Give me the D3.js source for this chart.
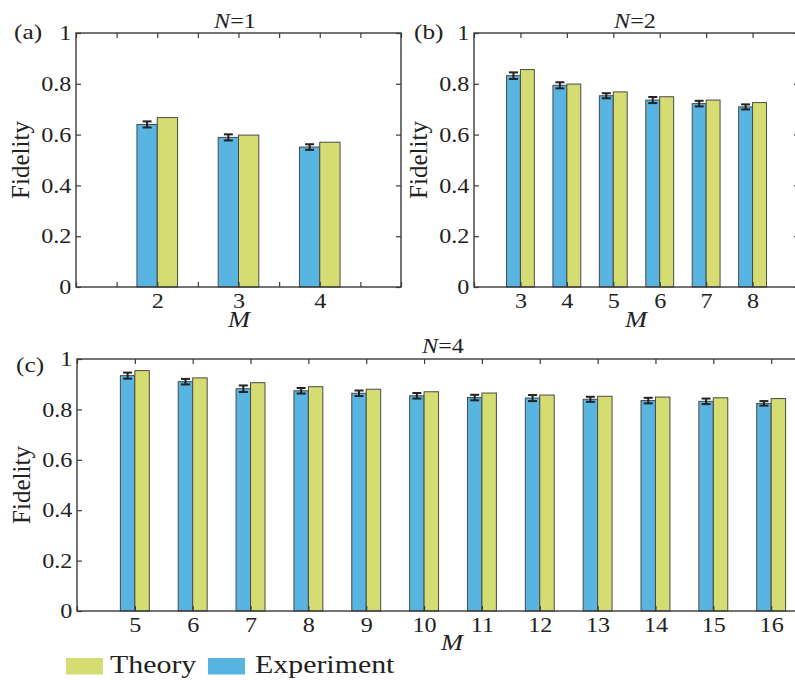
<!DOCTYPE html>
<html>
<head>
<meta charset="utf-8">
<script src="https://cdn.jsdelivr.net/npm/d3@7"></script>
</head>
<body style="margin:0;background:#fff">
<script>
// data
const yTicks = [0, 0.2, 0.4, 0.6, 0.8, 1];

const mA = [2, 3, 4];
const expA = [0.640, 0.589, 0.551];
const errA = [0.012, 0.012, 0.011];
const theoryA = [0.667, 0.598, 0.570];

const mB = [3, 4, 5, 6, 7, 8];
const expB = [0.832, 0.794, 0.753, 0.736, 0.722, 0.709];
const errB = [0.013, 0.012, 0.010, 0.012, 0.011, 0.010];
const theoryB = [0.856, 0.799, 0.768, 0.749, 0.736, 0.726];

const mC = [5, 6, 7, 8, 9, 10, 11, 12, 13, 14, 15, 16];
const expC = [0.934, 0.910, 0.882, 0.874, 0.864, 0.854, 0.847, 0.845, 0.840, 0.835, 0.832, 0.824];
const errC = [0.012, 0.011, 0.013, 0.011, 0.011, 0.011, 0.011, 0.012, 0.010, 0.011, 0.011, 0.009];
const theoryC = [0.954, 0.925, 0.906, 0.890, 0.880, 0.870, 0.865, 0.857, 0.852, 0.849, 0.846, 0.843];

const blue = "#58b5e2", yellow = "#d5dd72", edge = "#4a4a4a", axisColor = "#3a3a3a";
const FONT = '"Liberation Serif"';
const sx = 1.15; // the figure is slightly stretched sideways

const svg = d3.select("body").append("svg")
  .attr("width", 795).attr("height", 680)
  .style("font-family", FONT);

function label(sel, size) {
  return sel.style("font-family", FONT).style("font-size", size + "px").attr("fill", "#222");
}

function panel(o) {
  const x = d3.scaleLinear().domain(o.domain).range([o.left, o.right]);
  const y = d3.scaleLinear().domain([0, 1]).range([o.bottom, o.top]);
  const g = svg.append("g");
  const bw = o.barW * (x(1) - x(0));
  const rows = o.m.map((m, i) => ({ m, e: o.exp[i], err: o.err[i], t: o.theory[i] }));

  // bars
  g.selectAll("rect.exp").data(rows).enter().append("rect")
    .attr("class", "exp")
    .attr("x", d => x(d.m) - bw).attr("y", d => y(d.e))
    .attr("width", bw).attr("height", d => y(0) - y(d.e))
    .attr("fill", blue).attr("stroke", edge).attr("stroke-width", 1);
  g.selectAll("rect.th").data(rows).enter().append("rect")
    .attr("class", "th")
    .attr("x", d => x(d.m)).attr("y", d => y(d.t))
    .attr("width", bw).attr("height", d => y(0) - y(d.t))
    .attr("fill", yellow).attr("stroke", edge).attr("stroke-width", 1);

  // error bars
  const eb = g.selectAll("g.err").data(rows).enter().append("g")
    .attr("stroke", "#222").attr("stroke-width", 2);
  eb.append("line")
    .attr("x1", d => x(d.m) - bw / 2).attr("x2", d => x(d.m) - bw / 2)
    .attr("y1", d => y(d.e - d.err)).attr("y2", d => y(d.e + d.err));
  [-1, 1].forEach(s => {
    eb.append("line")
      .attr("x1", d => x(d.m) - bw / 2 - 4.5).attr("x2", d => x(d.m) - bw / 2 + 4.5)
      .attr("y1", d => y(d.e + s * d.err)).attr("y2", d => y(d.e + s * d.err));
  });

  // box
  g.append("rect")
    .attr("x", o.left).attr("y", o.top)
    .attr("width", o.right - o.left).attr("height", o.bottom - o.top)
    .attr("fill", "none").attr("stroke", axisColor).attr("stroke-width", 1.4);

  const xt = d3.range(o.domain[0], o.domain[1] + 1e-9, o.xStep);
  const xfmt = v => (o.m.includes(v) ? String(v) : "");

  const ax = [
    g.append("g").attr("transform", `translate(0,${o.bottom})`)
      .call(d3.axisBottom(x).tickValues(xt).tickFormat(xfmt).tickSize(-5).tickSizeOuter(0).tickPadding(6)),
    g.append("g").attr("transform", `translate(0,${o.top})`)
      .call(d3.axisTop(x).tickValues(xt).tickFormat("").tickSize(-5).tickSizeOuter(0)),
    g.append("g").attr("transform", `translate(${o.left},0)`)
      .call(d3.axisLeft(y).tickValues(yTicks).tickFormat(d3.format("~g")).tickSize(-5).tickSizeOuter(0).tickPadding(4)),
    g.append("g").attr("transform", `translate(${o.right},0)`)
      .call(d3.axisRight(y).tickValues(yTicks).tickFormat("").tickSize(-5).tickSizeOuter(0))
  ];
  ax.forEach(a => {
    a.attr("font-family", null).attr("font-size", null);
    a.select(".domain").remove();
    a.selectAll("line").attr("stroke", axisColor).attr("stroke-width", 1.2);
    label(a.selectAll("text"), 21).attr("transform", `scale(${sx},1)`);
  });

  // y label
  label(g.append("text"), 25)
    .attr("transform", `translate(${o.left - 47},${(o.top + o.bottom) / 2}) rotate(-90)`)
    .attr("text-anchor", "middle")
    .text("Fidelity");

  // x label
  label(g.append("text"), 23)
    .attr("transform", `translate(${o.mX},${o.mY}) scale(${sx},1)`)
    .attr("text-anchor", "middle").style("font-style", "italic")
    .text("M");

  // title
  const t = label(g.append("text"), 21)
    .attr("transform", `translate(${o.titleX},${o.titleY}) scale(${sx},1)`)
    .attr("text-anchor", "middle");
  t.append("tspan").style("font-style", "italic").text("N");
  t.append("tspan").text("=" + o.n);

  // panel tag
  label(g.append("text"), 22)
    .attr("transform", `translate(${o.tagX},${o.tagY}) scale(${sx},1)`)
    .text(o.tag);
}

panel({ m: mA, exp: expA, err: errA, theory: theoryA, domain: [1, 5], xStep: 0.5, barW: 0.25,
  left: 76, right: 401, top: 33, bottom: 287, n: 1, tag: "(a)",
  titleX: 235, titleY: 28, mX: 239, mY: 327, tagX: 14, tagY: 39 });

panel({ m: mB, exp: expB, err: errB, theory: theoryB, domain: [2, 9], xStep: 1, barW: 0.3,
  left: 474, right: 799, top: 33, bottom: 287, n: 2, tag: "(b)",
  titleX: 635, titleY: 28, mX: 636, mY: 327, tagX: 414, tagY: 39 });

panel({ m: mC, exp: expC, err: errC, theory: theoryC, domain: [4, 17], xStep: 1, barW: 0.25,
  left: 77, right: 829, top: 359, bottom: 611, n: 4, tag: "(c)",
  titleX: 443, titleY: 353, mX: 452, mY: 650, tagX: 16, tagY: 372 });

// legend
const legend = [
  { label: "Theory", color: yellow, x: 66, tx: 110 },
  { label: "Experiment", color: blue, x: 208, tx: 255 }
];
const lg = svg.append("g");
lg.selectAll("rect").data(legend).enter().append("rect")
  .attr("x", d => d.x).attr("y", 658).attr("width", 37).attr("height", 16.5)
  .attr("fill", d => d.color);
label(lg.selectAll("text").data(legend).enter().append("text"), 26)
  .attr("transform", d => `translate(${d.tx},673) scale(${sx},1)`)
  .text(d => d.label);
</script>
</body>
</html>
